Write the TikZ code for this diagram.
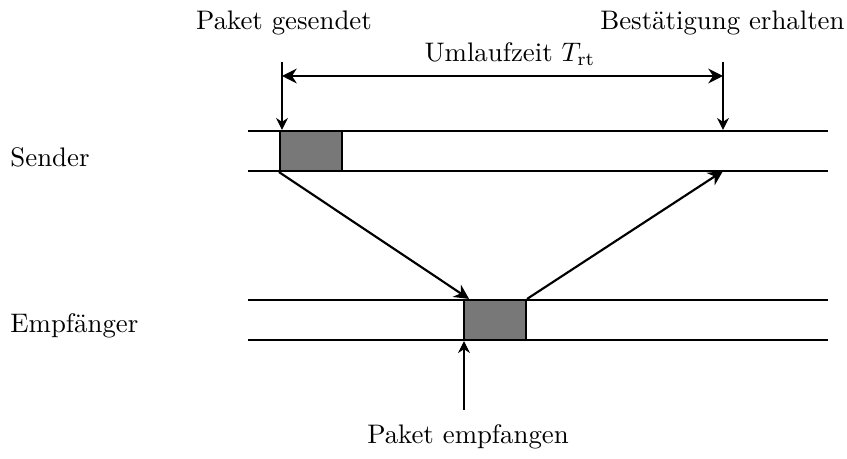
\documentclass[tikz,border=0pt]{standalone}
\usepackage{tikz}
\usetikzlibrary{arrows.meta}
\definecolor{packetgray}{gray}{0.47}

\begin{document}
\begin{tikzpicture}[
  x=0.0131cm, y=-0.0131cm,
  lane/.style={thick},
  packet/.style={draw, thick, fill=packetgray, minimum width=0.812cm, minimum height=0.524cm, inner sep=0pt},
  marker/.style={-{Stealth[length=4.5pt,width=4.5pt,inset=1.5pt]}},
  msg/.style={thick, -{Stealth[length=5.5pt,width=5.5pt,inset=1.8pt]}},
  span/.style={thick, {Stealth[length=5.5pt,width=5.5pt,inset=1.8pt]}-{Stealth[length=5.5pt,width=5.5pt,inset=1.8pt]}}
]
\useasboundingbox (0,0) rectangle (847,459);

% lanes
\draw[lane] (248,131) -- (828,131);
\draw[lane] (248,171) -- (828,171);
\draw[lane] (248,300) -- (828,300);
\draw[lane] (248,340) -- (828,340);

\node[anchor=west] (sender) at (1,157) {Sender};
\node[anchor=west] (receiver) at (1,326) {Empfänger};

% packets
\node[packet] (sbox) at (311,151) {};
\node[packet] (rbox) at (495,320) {};

\coordinate (back) at (723,171);
\draw[msg] (sbox.south west) -- ([xshift=0.08cm]rbox.north west);
\draw[msg] (rbox.north east) -- (back);

% labels and markers
\node (sent) at (284,23) {Paket gesendet};
\node[anchor=east] (acked) at (854,23) {Bestätigung erhalten};
\node (rtt) at (510,54) {Umlaufzeit $T_{\mathrm{rt}}$};
\node (recv) at (468,437) {Paket empfangen};

\coordinate (sentmark) at (282,62);
\coordinate (ackmark) at (723,62);
\coordinate (recvmark) at (464,410);
\coordinate (rttline) at (502,76);

\draw[marker] (sentmark) -- (sentmark |- sbox.north);
\draw[marker] (ackmark) -- (back |- sbox.north);
\draw[span] (sentmark |- rttline) -- (ackmark |- rttline);
\draw[marker] (recvmark) -- (recvmark |- rbox.south);
\end{tikzpicture}
\end{document}
